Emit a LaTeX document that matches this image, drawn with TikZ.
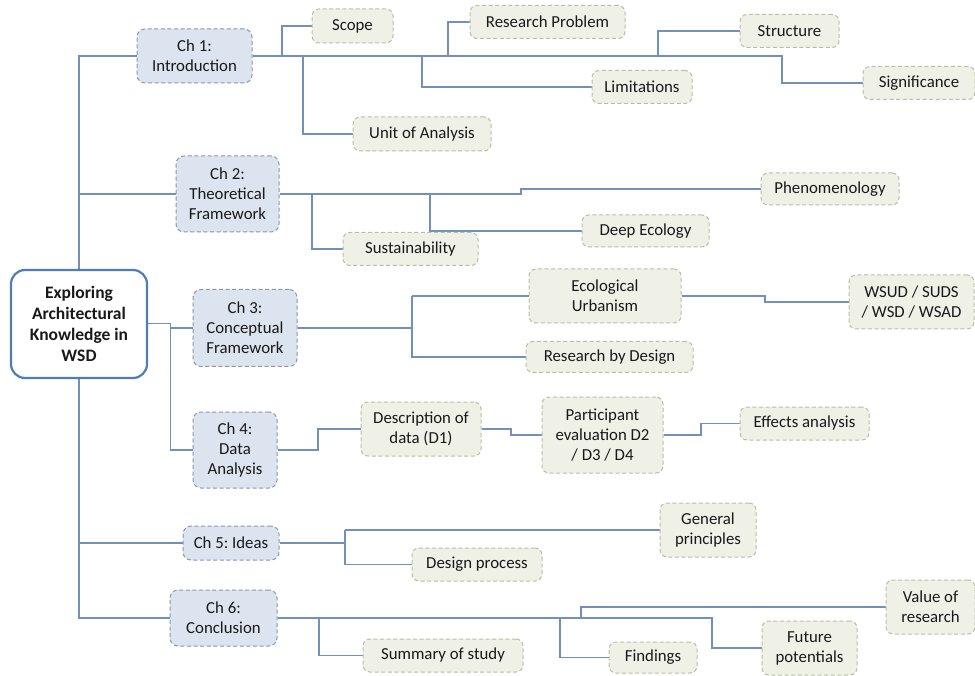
\documentclass[tikz,border=0pt]{standalone}
\usepackage{fontspec}
\setmainfont{Carlito}
\frenchspacing
\usetikzlibrary{backgrounds}
\definecolor{linkblue}{HTML}{7190BC}
\definecolor{rootblue}{HTML}{4F7DB8}
\definecolor{chfill}{HTML}{DCE4F0}
\definecolor{chline}{HTML}{8C97A8}
\definecolor{leaffill}{HTML}{EFF1E7}
\definecolor{leafline}{HTML}{B9BFA3}
\begin{document}
\begin{tikzpicture}[x=1pt,y=-1pt,
  every node/.style={inner sep=0pt,align=center,font=\fontsize{16.8}{20}\selectfont,text=black!90},
  rootbox/.style={draw=rootblue,line width=2.2pt,fill=white,rounded corners=14pt,
    font=\fontsize{17.5}{21}\selectfont\bfseries},
  chapbox/.style={draw=chline,fill=chfill,line width=1pt,dash pattern=on 4pt off 2.6pt,rounded corners=8pt},
  leafbox/.style={draw=leafline,fill=leaffill,line width=1pt,dash pattern=on 4pt off 2.6pt,rounded corners=7pt},
  link/.style={draw=linkblue,line width=1.4pt}]
\useasboundingbox (0,0) rectangle (975,676);

% ---------- root and chapters ----------
\node[rootbox,minimum width=136pt,minimum height=108pt] (root) at (79,324)
  {Exploring\\Architectural\\Knowledge in\\WSD};
\node[chapbox,minimum width=115pt,minimum height=54pt] (ch1) at (194.5,56) {Ch 1:\\Introduction};
\node[chapbox,minimum width=103pt,minimum height=76pt] (ch2) at (227.5,194) {Ch 2:\\Theoretical\\Framework};
\node[chapbox,minimum width=104pt,minimum height=77pt] (ch3) at (245,328) {Ch 3:\\Conceptual\\Framework};
\node[chapbox,minimum width=84pt,minimum height=76pt] (ch4) at (235,450) {Ch 4:\\Data\\Analysis};
\node[chapbox,minimum width=96pt,minimum height=34pt] (ch5) at (231,543) {Ch 5: Ideas};
\node[chapbox,minimum width=107pt,minimum height=56pt] (ch6) at (223.5,618) {Ch 6:\\Conclusion};

% ---------- chapter 1 topics ----------
\node[leafbox,minimum width=81pt,minimum height=34pt] (scope) at (352.5,26) {Scope};
\node[leafbox,minimum width=155pt,minimum height=33pt] (rp) at (547.5,22) {Research Problem};
\node[leafbox,minimum width=99pt,minimum height=33pt] (struct) at (789.5,31) {Structure};
\node[leafbox,minimum width=100pt,minimum height=33pt] (lim) at (642,87) {Limitations};
\node[leafbox,minimum width=112pt,minimum height=33pt] (sig) at (919,83) {Significance};
\node[leafbox,minimum width=138pt,minimum height=34pt] (unit) at (422,134) {Unit of Analysis};

% ---------- chapter 2 topics ----------
\node[leafbox,minimum width=138pt,minimum height=32pt] (phen) at (830,189) {Phenomenology};
\node[leafbox,minimum width=127pt,minimum height=32pt] (deep) at (645.5,231) {Deep Ecology};
\node[leafbox,minimum width=135pt,minimum height=33pt] (sust) at (410.5,249) {Sustainability};

% ---------- chapter 3 topics ----------
\node[leafbox,minimum width=152pt,minimum height=54pt] (eco) at (605,296) {Ecological\\Urbanism};
\node[leafbox,minimum width=167pt,minimum height=31pt] (rbd) at (609.5,357) {Research by Design};
\node[leafbox,minimum width=125pt,minimum height=54pt] (wsud) at (911.5,302) {WSUD / SUDS\\/ WSD / WSAD};

% ---------- chapter 4 topics ----------
\node[leafbox,minimum width=120pt,minimum height=54pt] (desc) at (421,429) {Description of\\data (D1)};
\node[leafbox,minimum width=121pt,minimum height=76pt] (part) at (602.5,435) {Participant\\evaluation D2\\/ D3 / D4};
\node[leafbox,minimum width=129pt,minimum height=33pt] (eff) at (804.5,423.5) {Effects analysis};

% ---------- chapter 5 topics ----------
\node[leafbox,minimum width=96pt,minimum height=54pt] (gen) at (708,530) {General\\principles};
\node[leafbox,minimum width=130pt,minimum height=33pt] (dproc) at (477,564.5) {Design process};

% ---------- chapter 6 topics ----------
\node[leafbox,minimum width=160pt,minimum height=33pt] (summ) at (443,655.5) {Summary of study};
\node[leafbox,minimum width=88pt,minimum height=31pt] (find) at (653,657.5) {Findings};
\node[leafbox,minimum width=95pt,minimum height=54pt] (fut) at (809.5,648) {Future\\potentials};
\node[leafbox,minimum width=89pt,minimum height=54pt] (val) at (930.5,607) {Value of\\research};

% ---------- connectors, behind the boxes ----------
\begin{scope}[on background layer]
  % spine from chapter 1 down to chapter 6
  \coordinate (sTop) at (79,56);
  \coordinate (sBot) at (79,618);
  \draw[link] (ch1.west) -- (sTop) -- (sBot) -- (ch6.west);
  \draw[link] (79,194) -- (ch2.west);
  \draw[link] (79,543) -- (ch5.west);
  % root to chapters 3 and 4
  \coordinate (r34) at (170.5,323.5);
  \draw[link] (root.east) ++(0,-0.5) -- (r34) |- (ch4.west);
  \draw[link] (170.5,328) -- (ch3.west);

  % chapter 1
  \draw[link] (ch1.east) -- (782,56) |- (sig.west);
  \draw[link] (282,56) |- (scope.west);
  \draw[link] (303,56) |- (unit.west);
  \draw[link] (422,56) |- (lim.west);
  \draw[link] (448,56) |- (rp.west);
  \draw[link] (658,56) |- (struct.west);

  % chapter 2
  \draw[link] (ch2.east) -- (521,194) -- (521,189) -- (phen.west);
  \draw[link] (312,194) |- (sust.west);
  \draw[link] (430,194) |- (deep.west);

  % chapter 3
  \coordinate (j3) at (412,328);
  \draw[link] (ch3.east) -- (j3);
  \draw[link] (412,296) -- (eco.west);
  \draw[link] (412,296) |- (rbd.west);
  \draw[link] (eco.east) -- (765,296) -- (765,302) -- (wsud.west);

  % chapter 4
  \draw[link] (ch4.east) -- (318,450) |- (desc.west);
  \draw[link] (desc.east) -- (511,429) |- (part.west);
  \draw[link] (part.east) -- (701,435) |- (eff.west);

  % chapter 5
  \draw[link] (ch5.east) -- (345,543);
  \draw[link] (345,530) -- (gen.west);
  \draw[link] (345,530) |- (dproc.west);

  % chapter 6
  \draw[link] (ch6.east) -- (712,618) |- (fut.west);
  \draw[link] (319,618) |- (summ.west);
  \draw[link] (560,618) |- (find.west);
  \draw[link] (581,618) |- (val.west);
\end{scope}

\end{tikzpicture}
\end{document}
